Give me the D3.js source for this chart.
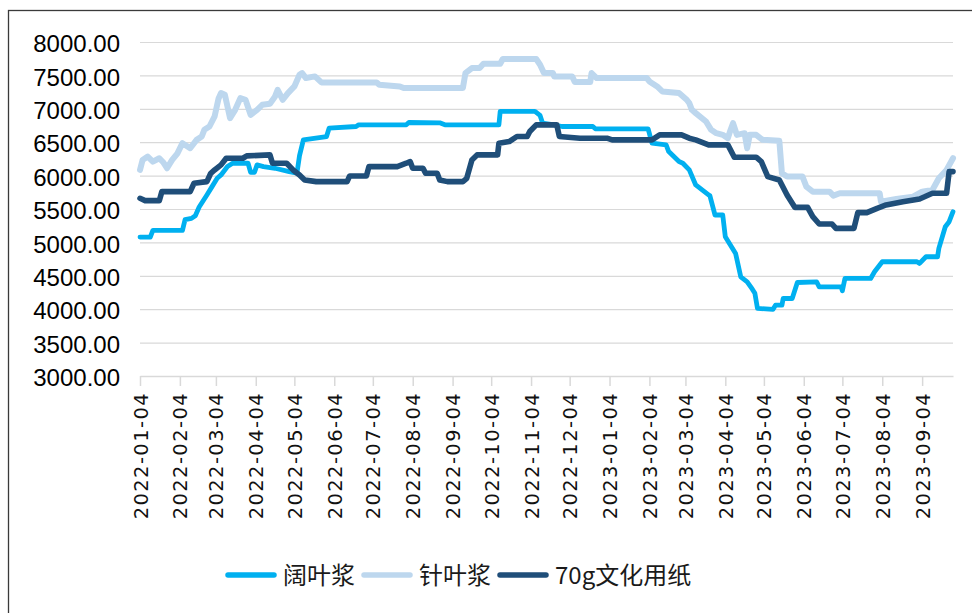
<!DOCTYPE html>
<html>
<head>
<meta charset="utf-8">
<script src="https://cdn.jsdelivr.net/npm/d3@7"></script>
<style>
  body { margin: 0; background: #fff; }
</style>
</head>
<body>
<div id="chart"></div>
<script>
// price series, [date, value]
var hardwood = [["2022-01-04",5080],["2022-01-12",5080],["2022-01-14",5180],["2022-02-06",5180],["2022-02-08",5340],["2022-02-13",5360],["2022-02-16",5400],["2022-02-19",5530],["2022-02-25",5710],["2022-03-01",5835],["2022-03-05",5960],["2022-03-08",6010],["2022-03-13",6135],["2022-03-17",6185],["2022-03-29",6185],["2022-03-31",6050],["2022-04-03",6050],["2022-04-05",6160],["2022-04-10",6135],["2022-04-19",6110],["2022-04-30",6060],["2022-05-06",6035],["2022-05-08",6300],["2022-05-11",6535],["2022-05-29",6585],["2022-05-31",6710],["2022-06-21",6735],["2022-06-23",6760],["2022-07-30",6760],["2022-08-01",6795],["2022-08-25",6790],["2022-08-29",6760],["2022-10-10",6760],["2022-10-11",6960],["2022-11-07",6960],["2022-11-11",6900],["2022-11-13",6785],["2022-11-22",6760],["2022-11-28",6735],["2022-12-22",6735],["2022-12-24",6700],["2023-02-03",6700],["2023-02-06",6485],["2023-02-17",6460],["2023-02-19",6360],["2023-02-23",6285],["2023-02-27",6210],["2023-03-02",6185],["2023-03-07",6085],["2023-03-12",5860],["2023-03-22",5710],["2023-03-23",5700],["2023-03-27",5410],["2023-04-02",5410],["2023-04-04",5085],["2023-04-12",4835],["2023-04-16",4485],["2023-04-21",4410],["2023-04-25",4300],["2023-04-27",4237],["2023-04-29",4012],["2023-05-11",3997],["2023-05-13",4060],["2023-05-18",4060],["2023-05-19",4160],["2023-05-26",4160],["2023-05-30",4400],["2023-06-14",4410],["2023-06-16",4335],["2023-07-03",4335],["2023-07-04",4275],["2023-07-06",4460],["2023-07-26",4460],["2023-07-29",4560],["2023-08-04",4710],["2023-08-31",4710],["2023-09-02",4685],["2023-09-07",4785],["2023-09-16",4785],["2023-09-17",4910],["2023-09-22",5235],["2023-09-25",5310],["2023-09-28",5460]];

var softwood = [["2022-01-04",6085],["2022-01-06",6235],["2022-01-10",6285],["2022-01-14",6210],["2022-01-19",6260],["2022-01-22",6200],["2022-01-25",6110],["2022-01-29",6235],["2022-02-02",6330],["2022-02-06",6485],["2022-02-12",6410],["2022-02-17",6535],["2022-02-21",6585],["2022-02-23",6685],["2022-02-27",6735],["2022-03-03",6885],["2022-03-06",7150],["2022-03-08",7235],["2022-03-11",7210],["2022-03-15",6860],["2022-03-19",6985],["2022-03-23",7160],["2022-03-27",7135],["2022-03-31",6910],["2022-04-05",6985],["2022-04-09",7060],["2022-04-15",7075],["2022-04-19",7185],["2022-04-21",7285],["2022-04-25",7135],["2022-04-29",7235],["2022-05-04",7335],["2022-05-08",7510],["2022-05-10",7535],["2022-05-13",7460],["2022-05-20",7485],["2022-05-25",7395],["2022-07-07",7395],["2022-07-09",7360],["2022-07-25",7335],["2022-07-28",7310],["2022-09-12",7310],["2022-09-14",7535],["2022-09-19",7610],["2022-09-25",7610],["2022-09-28",7675],["2022-10-11",7675],["2022-10-13",7745],["2022-11-08",7745],["2022-11-11",7660],["2022-11-14",7535],["2022-11-21",7535],["2022-11-22",7485],["2022-12-06",7485],["2022-12-08",7400],["2022-12-20",7400],["2022-12-21",7535],["2022-12-25",7460],["2023-02-02",7460],["2023-02-04",7410],["2023-02-10",7335],["2023-02-14",7260],["2023-02-27",7235],["2023-03-05",7135],["2023-03-07",7085],["2023-03-09",6985],["2023-03-12",6935],["2023-03-20",6810],["2023-03-24",6685],["2023-03-28",6635],["2023-04-02",6610],["2023-04-06",6560],["2023-04-08",6680],["2023-04-10",6785],["2023-04-13",6610],["2023-04-19",6635],["2023-04-21",6410],["2023-04-23",6610],["2023-04-28",6610],["2023-05-03",6535],["2023-05-16",6520],["2023-05-18",6035],["2023-05-22",5985],["2023-06-03",5985],["2023-06-06",5835],["2023-06-11",5760],["2023-06-24",5760],["2023-06-27",5700],["2023-07-02",5735],["2023-08-02",5735],["2023-08-03",5610],["2023-08-15",5650],["2023-08-28",5685],["2023-09-04",5760],["2023-09-12",5785],["2023-09-17",5960],["2023-09-23",6085],["2023-09-28",6260]];

var paper70g = [["2022-01-04",5660],["2022-01-08",5625],["2022-01-19",5625],["2022-01-21",5760],["2022-02-12",5760],["2022-02-15",5885],["2022-02-25",5910],["2022-02-28",6035],["2022-03-03",6085],["2022-03-08",6160],["2022-03-12",6260],["2022-03-25",6260],["2022-03-28",6295],["2022-04-15",6310],["2022-04-17",6185],["2022-04-28",6185],["2022-05-03",6085],["2022-05-08",6010],["2022-05-12",5935],["2022-05-21",5910],["2022-06-14",5910],["2022-06-16",5995],["2022-06-29",5995],["2022-07-01",6135],["2022-07-23",6135],["2022-07-30",6185],["2022-08-02",6210],["2022-08-04",6110],["2022-08-12",6110],["2022-08-14",6035],["2022-08-23",6035],["2022-08-25",5935],["2022-08-31",5910],["2022-09-12",5910],["2022-09-15",5960],["2022-09-19",6235],["2022-09-23",6310],["2022-10-09",6310],["2022-10-10",6485],["2022-10-18",6510],["2022-10-24",6585],["2022-11-01",6585],["2022-11-03",6660],["2022-11-08",6760],["2022-11-24",6760],["2022-11-26",6585],["2022-12-12",6560],["2023-01-02",6560],["2023-01-06",6535],["2023-02-06",6535],["2023-02-12",6610],["2023-03-01",6610],["2023-03-07",6560],["2023-03-12",6535],["2023-03-22",6460],["2023-04-06",6460],["2023-04-11",6275],["2023-04-28",6275],["2023-05-02",6210],["2023-05-07",5985],["2023-05-16",5935],["2023-05-22",5710],["2023-05-28",5525],["2023-06-07",5525],["2023-06-11",5385],["2023-06-16",5275],["2023-06-26",5275],["2023-06-29",5210],["2023-07-13",5210],["2023-07-16",5445],["2023-07-23",5445],["2023-07-31",5510],["2023-08-07",5560],["2023-08-20",5610],["2023-09-02",5650],["2023-09-12",5735],["2023-09-23",5735],["2023-09-25",6060],["2023-09-28",6060]];

var seriesNames = ["阔叶浆", "针叶浆", "70g文化用纸"];
var seriesColors = ["#00B0F0", "#BDD7EE", "#1F4E79"];
var yTicks = [3000, 3500, 4000, 4500, 5000, 5500, 6000, 6500, 7000, 7500, 8000];
var xTickLabels = ["2022-01-04","2022-02-04","2022-03-04","2022-04-04","2022-05-04","2022-06-04","2022-07-04","2022-08-04","2022-09-04","2022-10-04","2022-11-04","2022-12-04","2023-01-04","2023-02-04","2023-03-04","2023-04-04","2023-05-04","2023-06-04","2023-07-04","2023-08-04","2023-09-04"];
var dateRange = ["2022-01-04", "2023-09-28"];

var W = 972, H = 613;
var margin = {top: 42, right: 19, bottom: 237, left: 140},
    width = W - margin.left - margin.right,
    height = H - margin.top - margin.bottom;

var parse = d3.timeParse("%Y-%m-%d");
var fmt = d3.timeFormat("%Y-%m-%d");

var root = d3.select("#chart")
  .append("svg")
    .attr("width", W)
    .attr("height", H);

// outer chart frame (cut off on the right and bottom)
root.append("rect")
  .attr("x", 8.5).attr("y", 10.5)
  .attr("width", 1000).attr("height", 700)
  .attr("fill", "none")
  .attr("stroke", "#3a3a3a")
  .attr("stroke-width", 1.3);

var svg = root.append("g")
  .attr("transform", "translate(" + margin.left + "," + margin.top + ")");

var x = d3.scaleTime()
  .domain(dateRange.map(parse))
  .range([0, width]);

var y = d3.scaleLinear()
  .domain([3000, 8000])
  .range([height, 0]);

// gridlines
svg.append("g")
  .call(d3.axisLeft(y).tickValues(yTicks).tickSize(-width).tickFormat(""))
  .call(function(g) { g.select(".domain").remove(); })
  .selectAll("line")
    .attr("stroke", "#d9d9d9")
    .attr("stroke-width", 1.2);

// Y axis labels
svg.append("g")
  .call(d3.axisLeft(y).tickValues(yTicks).tickSize(0).tickPadding(20).tickFormat(d3.format(".2f")))
  .call(function(g) { g.select(".domain").remove(); })
  .selectAll("text")
    .attr("dy", "0.4em")
    .style("font-family", "'Liberation Sans', Arial, sans-serif")
    .style("font-size", "24px")
    .attr("fill", "#000");

// X axis
var xAxis = svg.append("g")
  .attr("transform", "translate(0," + height + ")")
  .call(d3.axisBottom(x).tickValues(xTickLabels.map(parse)).tickSize(10).tickSizeOuter(0).tickFormat(fmt));

xAxis.select(".domain").attr("stroke", "#d9d9d9").attr("stroke-width", 1.5);
xAxis.selectAll(".tick line").attr("stroke", "#d9d9d9").attr("stroke-width", 1.5);
xAxis.selectAll("text")
  .attr("transform", "rotate(-90)")
  .attr("x", -16)
  .attr("y", 0)
  .attr("dy", "0.36em")
  .style("text-anchor", "end")
  .style("font-family", "'DejaVu Sans', sans-serif")
  .style("font-size", "19.5px")
  .style("letter-spacing", "1.4px")
  .attr("fill", "#111");

// the lines
var line = d3.line()
  .x(function(d) { return x(parse(d[0])); })
  .y(function(d) { return y(d[1]); });

var widths = [4.8, 6, 5.6];
[hardwood, softwood, paper70g].forEach(function(s, i) {
  svg.append("path")
    .datum(s)
    .attr("fill", "none")
    .attr("stroke", seriesColors[i])
    .attr("stroke-width", widths[i])
    .attr("stroke-linejoin", "round")
    .attr("stroke-linecap", "round")
    .attr("d", line);
});

// legend
var legend = root.append("g").attr("transform", "translate(0,575)");
var lx = 228;
seriesNames.forEach(function(name, i) {
  legend.append("line")
    .attr("x1", lx).attr("x2", lx + 46)
    .attr("y1", 0).attr("y2", 0)
    .attr("stroke", seriesColors[i])
    .attr("stroke-width", 5.5)
    .attr("stroke-linecap", "round");
  var t = legend.append("text")
    .attr("x", lx + 55)
    .attr("y", 0)
    .attr("dy", "0.36em")
    .style("font-family", "'Noto Sans CJK SC', sans-serif")
    .style("font-size", "24px")
    .attr("fill", "#1a1a1a")
    .text(name);
  lx = lx + 55 + t.node().getComputedTextLength() + 9;
});
</script>
</body>
</html>
